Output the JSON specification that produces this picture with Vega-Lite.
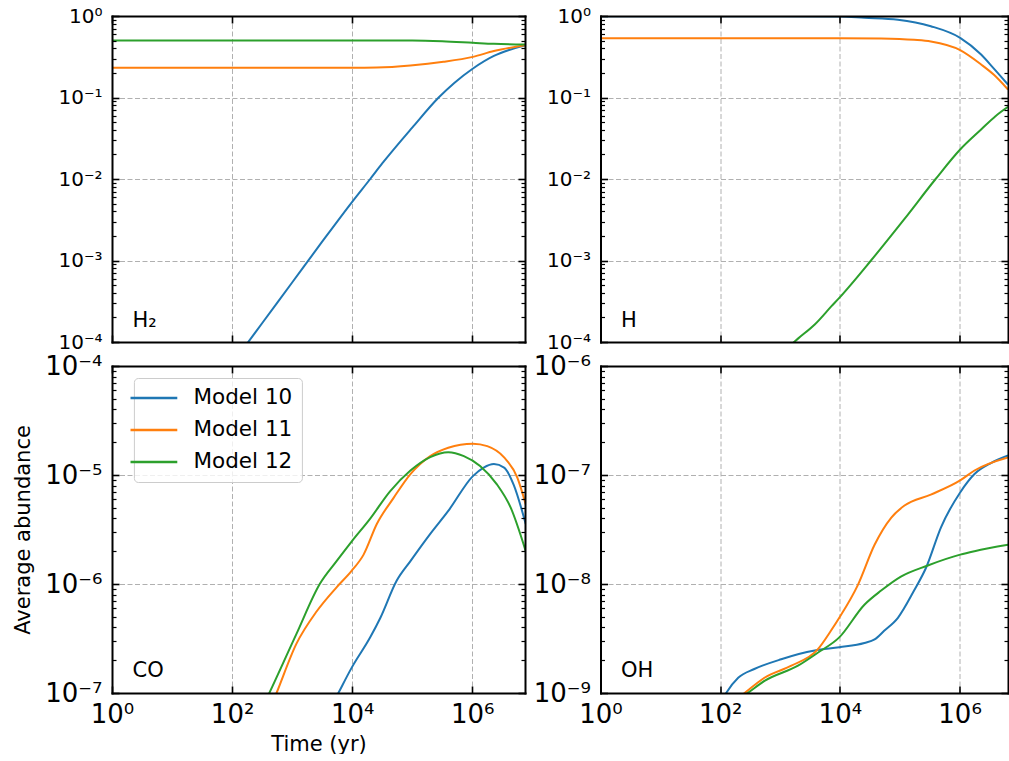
{
"$schema": "https://vega.github.io/schema/vega-lite/v6.json",
"padding": {"left": 12, "top": 6, "right": 0, "bottom": 0},
"bounds": "flush",
"columns": 2,
"spacing": {"row": 24, "column": 75.5},
"datasets": {
"abund": [
{"species":"H2","model":"Model 10","time":100,"abundance":5.37e-5},
{"species":"H2","model":"Model 10","time":316,"abundance":1.70e-4},
{"species":"H2","model":"Model 10","time":1000,"abundance":5.37e-4},
{"species":"H2","model":"Model 10","time":3162,"abundance":1.70e-3},
{"species":"H2","model":"Model 10","time":10000,"abundance":5.25e-3},
{"species":"H2","model":"Model 10","time":19953,"abundance":1.0e-2},
{"species":"H2","model":"Model 10","time":31623,"abundance":1.55e-2},
{"species":"H2","model":"Model 10","time":100000,"abundance":4.27e-2},
{"species":"H2","model":"Model 10","time":275423,"abundance":0.1},
{"species":"H2","model":"Model 10","time":501187,"abundance":0.151},
{"species":"H2","model":"Model 10","time":1000000,"abundance":0.224},
{"species":"H2","model":"Model 10","time":2290868,"abundance":0.324},
{"species":"H2","model":"Model 10","time":3981072,"abundance":0.38},
{"species":"H2","model":"Model 10","time":7762471,"abundance":0.437},
{"species":"H2","model":"Model 11","time":1,"abundance":0.231},
{"species":"H2","model":"Model 11","time":10000,"abundance":0.231},
{"species":"H2","model":"Model 11","time":25704,"abundance":0.233},
{"species":"H2","model":"Model 11","time":93325,"abundance":0.247},
{"species":"H2","model":"Model 11","time":331131,"abundance":0.274},
{"species":"H2","model":"Model 11","time":1023293,"abundance":0.315},
{"species":"H2","model":"Model 11","time":2290868,"abundance":0.371},
{"species":"H2","model":"Model 11","time":7585776,"abundance":0.438},
{"species":"H2","model":"Model 12","time":1,"abundance":0.5},
{"species":"H2","model":"Model 12","time":100000,"abundance":0.5},
{"species":"H2","model":"Model 12","time":316228,"abundance":0.49},
{"species":"H2","model":"Model 12","time":1023293,"abundance":0.469},
{"species":"H2","model":"Model 12","time":2290868,"abundance":0.455},
{"species":"H2","model":"Model 12","time":7585776,"abundance":0.447},
{"species":"H","model":"Model 10","time":1,"abundance":0.995},
{"species":"H","model":"Model 10","time":1000,"abundance":0.993},
{"species":"H","model":"Model 10","time":10000,"abundance":0.985},
{"species":"H","model":"Model 10","time":25704,"abundance":0.95},
{"species":"H","model":"Model 10","time":93325,"abundance":0.9},
{"species":"H","model":"Model 10","time":331131,"abundance":0.75},
{"species":"H","model":"Model 10","time":1023293,"abundance":0.54},
{"species":"H","model":"Model 10","time":2290868,"abundance":0.337},
{"species":"H","model":"Model 10","time":3715352,"abundance":0.228},
{"species":"H","model":"Model 10","time":6456542,"abundance":0.144},
{"species":"H","model":"Model 11","time":1,"abundance":0.535},
{"species":"H","model":"Model 11","time":10000,"abundance":0.535},
{"species":"H","model":"Model 11","time":48978,"abundance":0.53},
{"species":"H","model":"Model 11","time":173780,"abundance":0.51},
{"species":"H","model":"Model 11","time":331131,"abundance":0.486},
{"species":"H","model":"Model 11","time":1023293,"abundance":0.381},
{"species":"H","model":"Model 11","time":2290868,"abundance":0.254},
{"species":"H","model":"Model 11","time":3715352,"abundance":0.191},
{"species":"H","model":"Model 11","time":6456542,"abundance":0.125},
{"species":"H","model":"Model 12","time":1000,"abundance":7.0e-5},
{"species":"H","model":"Model 12","time":1995,"abundance":1.10e-4},
{"species":"H","model":"Model 12","time":3802,"abundance":1.64e-4},
{"species":"H","model":"Model 12","time":7244,"abundance":2.75e-4},
{"species":"H","model":"Model 12","time":9772,"abundance":3.48e-4},
{"species":"H","model":"Model 12","time":33113,"abundance":1.0e-3},
{"species":"H","model":"Model 12","time":120226,"abundance":3.24e-3},
{"species":"H","model":"Model 12","time":398107,"abundance":1.0e-2},
{"species":"H","model":"Model 12","time":1023293,"abundance":0.023},
{"species":"H","model":"Model 12","time":2290868,"abundance":0.0405},
{"species":"H","model":"Model 12","time":3981072,"abundance":0.059},
{"species":"H","model":"Model 12","time":6456542,"abundance":0.0768},
{"species":"CO","model":"Model 10","time":3981,"abundance":6.61e-8},
{"species":"CO","model":"Model 10","time":5888,"abundance":1.0e-7},
{"species":"CO","model":"Model 10","time":9772,"abundance":1.70e-7},
{"species":"CO","model":"Model 10","time":19953,"abundance":3.24e-7},
{"species":"CO","model":"Model 10","time":29512,"abundance":4.90e-7},
{"species":"CO","model":"Model 10","time":54954,"abundance":1.07e-6},
{"species":"CO","model":"Model 10","time":93325,"abundance":1.62e-6},
{"species":"CO","model":"Model 10","time":199526,"abundance":2.88e-6},
{"species":"CO","model":"Model 10","time":398107,"abundance":4.68e-6},
{"species":"CO","model":"Model 10","time":1023293,"abundance":9.77e-6},
{"species":"CO","model":"Model 10","time":1548817,"abundance":1.17e-5},
{"species":"CO","model":"Model 10","time":2290868,"abundance":1.26e-5},
{"species":"CO","model":"Model 10","time":3388442,"abundance":1.17e-5},
{"species":"CO","model":"Model 10","time":4897788,"abundance":8.13e-6},
{"species":"CO","model":"Model 10","time":7762471,"abundance":3.55e-6},
{"species":"CO","model":"Model 11","time":398,"abundance":6.46e-8},
{"species":"CO","model":"Model 11","time":550,"abundance":1.0e-7},
{"species":"CO","model":"Model 11","time":1175,"abundance":2.82e-7},
{"species":"CO","model":"Model 11","time":2570,"abundance":5.62e-7},
{"species":"CO","model":"Model 11","time":5495,"abundance":9.33e-7},
{"species":"CO","model":"Model 11","time":9772,"abundance":1.32e-6},
{"species":"CO","model":"Model 11","time":15488,"abundance":1.86e-6},
{"species":"CO","model":"Model 11","time":25704,"abundance":3.55e-6},
{"species":"CO","model":"Model 11","time":48978,"abundance":6.17e-6},
{"species":"CO","model":"Model 11","time":93325,"abundance":1.02e-5},
{"species":"CO","model":"Model 11","time":199526,"abundance":1.49e-5},
{"species":"CO","model":"Model 11","time":398107,"abundance":1.78e-5},
{"species":"CO","model":"Model 11","time":1023293,"abundance":1.94e-5},
{"species":"CO","model":"Model 11","time":1778279,"abundance":1.84e-5},
{"species":"CO","model":"Model 11","time":3388442,"abundance":1.45e-5},
{"species":"CO","model":"Model 11","time":5623413,"abundance":9.44e-6},
{"species":"CO","model":"Model 11","time":7762471,"abundance":5.37e-6},
{"species":"CO","model":"Model 12","time":316,"abundance":7.24e-8},
{"species":"CO","model":"Model 12","time":417,"abundance":1.0e-7},
{"species":"CO","model":"Model 12","time":1175,"abundance":3.47e-7},
{"species":"CO","model":"Model 12","time":2884,"abundance":1.0e-6},
{"species":"CO","model":"Model 12","time":5495,"abundance":1.62e-6},
{"species":"CO","model":"Model 12","time":9772,"abundance":2.45e-6},
{"species":"CO","model":"Model 12","time":19953,"abundance":3.98e-6},
{"species":"CO","model":"Model 12","time":42658,"abundance":7.08e-6},
{"species":"CO","model":"Model 12","time":93325,"abundance":1.10e-5},
{"species":"CO","model":"Model 12","time":199526,"abundance":1.46e-5},
{"species":"CO","model":"Model 12","time":398107,"abundance":1.62e-5},
{"species":"CO","model":"Model 12","time":724436,"abundance":1.49e-5},
{"species":"CO","model":"Model 12","time":1348963,"abundance":1.21e-5},
{"species":"CO","model":"Model 12","time":2570396,"abundance":8.20e-6},
{"species":"CO","model":"Model 12","time":4365158,"abundance":5.01e-6},
{"species":"CO","model":"Model 12","time":7762471,"abundance":2.0e-6},
{"species":"OH","model":"Model 10","time":100,"abundance":7.94e-10},
{"species":"OH","model":"Model 10","time":126,"abundance":1.0e-9},
{"species":"OH","model":"Model 10","time":200,"abundance":1.38e-9},
{"species":"OH","model":"Model 10","time":372,"abundance":1.66e-9},
{"species":"OH","model":"Model 10","time":1047,"abundance":2.04e-9},
{"species":"OH","model":"Model 10","time":3802,"abundance":2.45e-9},
{"species":"OH","model":"Model 10","time":9772,"abundance":2.63e-9},
{"species":"OH","model":"Model 10","time":25704,"abundance":2.88e-9},
{"species":"OH","model":"Model 10","time":38019,"abundance":3.10e-9},
{"species":"OH","model":"Model 10","time":54954,"abundance":3.72e-9},
{"species":"OH","model":"Model 10","time":93325,"abundance":4.90e-9},
{"species":"OH","model":"Model 10","time":173780,"abundance":8.71e-9},
{"species":"OH","model":"Model 10","time":275423,"abundance":1.41e-8},
{"species":"OH","model":"Model 10","time":489779,"abundance":3.31e-8},
{"species":"OH","model":"Model 10","time":1023293,"abundance":6.92e-8},
{"species":"OH","model":"Model 10","time":1778279,"abundance":1.02e-7},
{"species":"OH","model":"Model 10","time":3388442,"abundance":1.29e-7},
{"species":"OH","model":"Model 10","time":6456542,"abundance":1.51e-7},
{"species":"OH","model":"Model 11","time":200,"abundance":8.91e-10},
{"species":"OH","model":"Model 11","time":257,"abundance":1.0e-9},
{"species":"OH","model":"Model 11","time":550,"abundance":1.38e-9},
{"species":"OH","model":"Model 11","time":1549,"abundance":1.78e-9},
{"species":"OH","model":"Model 11","time":4266,"abundance":2.51e-9},
{"species":"OH","model":"Model 11","time":7079,"abundance":3.72e-9},
{"species":"OH","model":"Model 11","time":9772,"abundance":4.90e-9},
{"species":"OH","model":"Model 11","time":19953,"abundance":9.77e-9},
{"species":"OH","model":"Model 11","time":38019,"abundance":2.29e-8},
{"species":"OH","model":"Model 11","time":72444,"abundance":4.07e-8},
{"species":"OH","model":"Model 11","time":120226,"abundance":5.25e-8},
{"species":"OH","model":"Model 11","time":331131,"abundance":6.61e-8},
{"species":"OH","model":"Model 11","time":1023293,"abundance":8.91e-8},
{"species":"OH","model":"Model 11","time":1778279,"abundance":1.10e-7},
{"species":"OH","model":"Model 11","time":6456542,"abundance":1.45e-7},
{"species":"OH","model":"Model 12","time":200,"abundance":8.71e-10},
{"species":"OH","model":"Model 12","time":288,"abundance":1.0e-9},
{"species":"OH","model":"Model 12","time":550,"abundance":1.29e-9},
{"species":"OH","model":"Model 12","time":1995,"abundance":1.78e-9},
{"species":"OH","model":"Model 12","time":4266,"abundance":2.34e-9},
{"species":"OH","model":"Model 12","time":9772,"abundance":3.24e-9},
{"species":"OH","model":"Model 12","time":25704,"abundance":6.46e-9},
{"species":"OH","model":"Model 12","time":48978,"abundance":8.71e-9},
{"species":"OH","model":"Model 12","time":104713,"abundance":1.17e-8},
{"species":"OH","model":"Model 12","time":295121,"abundance":1.48e-8},
{"species":"OH","model":"Model 12","time":1023293,"abundance":1.86e-8},
{"species":"OH","model":"Model 12","time":1778279,"abundance":2.0e-8},
{"species":"OH","model":"Model 12","time":6456542,"abundance":2.29e-8}
]
},
"concat": [
{
"width": 413, "height": 326,
"layer": [
{"data":{"name":"abund"},"transform":[{"filter":"datum.species === 'H2'"}],
"mark":{"type":"line","strokeWidth":2,"clip":true,"interpolate":"monotone"},
"encoding":{
"x":{"field":"time","type":"quantitative","scale":{"type":"log","domain":[1,7550000],"nice":false},
"axis":{"orient":"bottom","values":[1,100,10000,1000000],"labels":false,"grid":true,"domain":false,"tickSize":-7,"title":null,"zindex":0}},
"y":{"field":"abundance","type":"quantitative","scale":{"type":"log","domain":[0.0001,1],"nice":false},
"axis":{"orient":"left","values":[0.0001,0.001,0.01,0.1,1],"labelExpr":"'10' + ['⁻⁹','⁻⁸','⁻⁷','⁻⁶','⁻⁵','⁻⁴','⁻³','⁻²','⁻¹','⁰','¹','²','³','⁴','⁵','⁶'][round(log(datum.value)/LN10)+9]","labelFontSize":20,"labelPadding":17,"grid":true,"domain":false,"tickSize":-7,"title":null,"zindex":0}},
"color":{"field":"model","type":"nominal","scale":{"domain":["Model 10","Model 11","Model 12"],"range":["#1f77b4","#ff7f0e","#2ca02c"]},"legend":null}
}},
{"data":{"name":"abund"},"transform":[{"filter":"datum.species === 'H2'"}],
"mark":{"type":"point","opacity":0,"clip":true},
"encoding":{
"x":{"field":"time","type":"quantitative","scale":{"type":"log","domain":[1,7550000],"nice":false},
"axis":{"orient":"top","values":[1,100,10000,1000000],"labels":false,"grid":false,"domain":true,"tickSize":-7,"title":null,"zindex":1}},
"y":{"field":"abundance","type":"quantitative","scale":{"type":"log","domain":[0.0001,1],"nice":false},
"axis":{"orient":"left","values":[0.0002,0.0003,0.0004,0.0005,0.0006,0.0007,0.0008,0.0009,0.002,0.003,0.004,0.005,0.006,0.007,0.008,0.009,0.02,0.03,0.04,0.05,0.06,0.07,0.08,0.09,0.2,0.3,0.4,0.5,0.6,0.7,0.8,0.9],"labels":false,"grid":false,"domain":true,"tickSize":-4,"tickWidth":1.2,"title":null,"zindex":1}}
}},
{"data":{"name":"abund"},"transform":[{"filter":"datum.species === 'H2'"}],
"mark":{"type":"point","opacity":0,"clip":true},
"encoding":{
"x":{"field":"time","type":"quantitative","scale":{"type":"log","domain":[1,7550000],"nice":false},
"axis":{"orient":"bottom","ticks":false,"labels":false,"grid":false,"domain":true,"title":null,"zindex":1}},
"y":{"field":"abundance","type":"quantitative","scale":{"type":"log","domain":[0.0001,1],"nice":false},
"axis":{"orient":"right","values":[0.0001,0.001,0.01,0.1,1],"labels":false,"grid":false,"domain":true,"tickSize":-7,"title":null,"zindex":1}}
}},
{"data":{"name":"abund"},"transform":[{"filter":"datum.species === 'H2'"}],
"mark":{"type":"point","opacity":0,"clip":true},
"encoding":{
"x":{"field":"time","type":"quantitative","scale":{"type":"log","domain":[1,7550000],"nice":false},"axis":null},
"y":{"field":"abundance","type":"quantitative","scale":{"type":"log","domain":[0.0001,1],"nice":false},
"axis":{"orient":"right","values":[0.0002,0.0003,0.0004,0.0005,0.0006,0.0007,0.0008,0.0009,0.002,0.003,0.004,0.005,0.006,0.007,0.008,0.009,0.02,0.03,0.04,0.05,0.06,0.07,0.08,0.09,0.2,0.3,0.4,0.5,0.6,0.7,0.8,0.9],"labels":false,"grid":false,"domain":false,"tickSize":-4,"tickWidth":1.2,"title":null,"zindex":1}}
}},
{"data":{"values":[{"label":"H₂"}]},
"mark":{"type":"text","align":"left","baseline":"alphabetic","fontSize":21,"font":"DejaVu Sans","color":"black"},
"encoding":{
"x":{"datum":2.2,"type":"quantitative","scale":{"type":"log","domain":[1,7550000],"nice":false},"axis":null},
"y":{"datum":0.000154,"type":"quantitative","scale":{"type":"log","domain":[0.0001,1],"nice":false},"axis":null},
"text":{"field":"label"}
}}
],
"resolve":{"axis":{"x":"independent","y":"independent"}}
},
{
"width": 407.5, "height": 326,
"layer": [
{"data":{"name":"abund"},"transform":[{"filter":"datum.species === 'H'"}],
"mark":{"type":"line","strokeWidth":2,"clip":true,"interpolate":"monotone"},
"encoding":{
"x":{"field":"time","type":"quantitative","scale":{"type":"log","domain":[1,6450000],"nice":false},
"axis":{"orient":"bottom","values":[1,100,10000,1000000],"labels":false,"grid":true,"domain":false,"tickSize":-7,"title":null,"zindex":0}},
"y":{"field":"abundance","type":"quantitative","scale":{"type":"log","domain":[0.0001,1],"nice":false},
"axis":{"orient":"left","values":[0.0001,0.001,0.01,0.1,1],"labelExpr":"'10' + ['⁻⁹','⁻⁸','⁻⁷','⁻⁶','⁻⁵','⁻⁴','⁻³','⁻²','⁻¹','⁰','¹','²','³','⁴','⁵','⁶'][round(log(datum.value)/LN10)+9]","labelFontSize":20,"labelPadding":17,"grid":true,"domain":false,"tickSize":-7,"title":null,"zindex":0}},
"color":{"field":"model","type":"nominal","scale":{"domain":["Model 10","Model 11","Model 12"],"range":["#1f77b4","#ff7f0e","#2ca02c"]},"legend":null}
}},
{"data":{"name":"abund"},"transform":[{"filter":"datum.species === 'H'"}],
"mark":{"type":"point","opacity":0,"clip":true},
"encoding":{
"x":{"field":"time","type":"quantitative","scale":{"type":"log","domain":[1,6450000],"nice":false},
"axis":{"orient":"top","values":[1,100,10000,1000000],"labels":false,"grid":false,"domain":true,"tickSize":-7,"title":null,"zindex":1}},
"y":{"field":"abundance","type":"quantitative","scale":{"type":"log","domain":[0.0001,1],"nice":false},
"axis":{"orient":"left","values":[0.0002,0.0003,0.0004,0.0005,0.0006,0.0007,0.0008,0.0009,0.002,0.003,0.004,0.005,0.006,0.007,0.008,0.009,0.02,0.03,0.04,0.05,0.06,0.07,0.08,0.09,0.2,0.3,0.4,0.5,0.6,0.7,0.8,0.9],"labels":false,"grid":false,"domain":true,"tickSize":-4,"tickWidth":1.2,"title":null,"zindex":1}}
}},
{"data":{"name":"abund"},"transform":[{"filter":"datum.species === 'H'"}],
"mark":{"type":"point","opacity":0,"clip":true},
"encoding":{
"x":{"field":"time","type":"quantitative","scale":{"type":"log","domain":[1,6450000],"nice":false},
"axis":{"orient":"bottom","ticks":false,"labels":false,"grid":false,"domain":true,"title":null,"zindex":1}},
"y":{"field":"abundance","type":"quantitative","scale":{"type":"log","domain":[0.0001,1],"nice":false},
"axis":{"orient":"right","values":[0.0001,0.001,0.01,0.1,1],"labels":false,"grid":false,"domain":true,"tickSize":-7,"title":null,"zindex":1}}
}},
{"data":{"name":"abund"},"transform":[{"filter":"datum.species === 'H'"}],
"mark":{"type":"point","opacity":0,"clip":true},
"encoding":{
"x":{"field":"time","type":"quantitative","scale":{"type":"log","domain":[1,6450000],"nice":false},"axis":null},
"y":{"field":"abundance","type":"quantitative","scale":{"type":"log","domain":[0.0001,1],"nice":false},
"axis":{"orient":"right","values":[0.0002,0.0003,0.0004,0.0005,0.0006,0.0007,0.0008,0.0009,0.002,0.003,0.004,0.005,0.006,0.007,0.008,0.009,0.02,0.03,0.04,0.05,0.06,0.07,0.08,0.09,0.2,0.3,0.4,0.5,0.6,0.7,0.8,0.9],"labels":false,"grid":false,"domain":false,"tickSize":-4,"tickWidth":1.2,"title":null,"zindex":1}}
}},
{"data":{"values":[{"label":"H"}]},
"mark":{"type":"text","align":"left","baseline":"alphabetic","fontSize":21,"font":"DejaVu Sans","color":"black"},
"encoding":{
"x":{"datum":2.2,"type":"quantitative","scale":{"type":"log","domain":[1,6450000],"nice":false},"axis":null},
"y":{"datum":0.000154,"type":"quantitative","scale":{"type":"log","domain":[0.0001,1],"nice":false},"axis":null},
"text":{"field":"label"}
}}
],
"resolve":{"axis":{"x":"independent","y":"independent"}}
},
{
"width": 413, "height": 327,
"layer": [
{"data":{"name":"abund"},"transform":[{"filter":"datum.species === 'CO'"}],
"mark":{"type":"line","strokeWidth":2,"clip":true,"interpolate":"monotone"},
"encoding":{
"x":{"field":"time","type":"quantitative","scale":{"type":"log","domain":[1,7550000],"nice":false},
"axis":{"orient":"bottom","values":[1,100,10000,1000000],"labelExpr":"'10' + ['⁻⁹','⁻⁸','⁻⁷','⁻⁶','⁻⁵','⁻⁴','⁻³','⁻²','⁻¹','⁰','¹','²','³','⁴','⁵','⁶'][round(log(datum.value)/LN10)+9]","labelFontSize":26,"labelPadding":15,"grid":true,"domain":false,"tickSize":-7,"title":"Time (yr)","titleFontSize":21,"titlePadding":6,"zindex":0}},
"y":{"field":"abundance","type":"quantitative","scale":{"type":"log","domain":[1e-7,1e-4],"nice":false},
"axis":{"orient":"left","values":[1e-7,1e-6,1e-5,1e-4],"labelExpr":"'10' + ['⁻⁹','⁻⁸','⁻⁷','⁻⁶','⁻⁵','⁻⁴','⁻³','⁻²','⁻¹','⁰','¹','²','³','⁴','⁵','⁶'][round(log(datum.value)/LN10)+9]","labelFontSize":26,"labelPadding":17,"grid":true,"domain":false,"tickSize":-7,"title":"Average abundance","titleFontSize":21,"titlePadding":11,"zindex":0}},
"color":{"field":"model","type":"nominal","title":null,"scale":{"domain":["Model 10","Model 11","Model 12"],"range":["#1f77b4","#ff7f0e","#2ca02c"]},
"legend":{"orient":"none","legendX":21.9,"legendY":12,"title":null,"symbolType":"M-2.5,0H2.5","symbolSize":350,"symbolStrokeWidth":2.5,"labelFontSize":21.5,"labelFont":"DejaVu Sans","labelColor":"black","labelOffset":28.6,"rowPadding":10,"padding":9,"fillColor":"rgba(255,255,255,0.8)","strokeColor":"#cccccc","cornerRadius":4}}
}},
{"data":{"name":"abund"},"transform":[{"filter":"datum.species === 'CO'"}],
"mark":{"type":"point","opacity":0,"clip":true},
"encoding":{
"x":{"field":"time","type":"quantitative","scale":{"type":"log","domain":[1,7550000],"nice":false},
"axis":{"orient":"top","values":[1,100,10000,1000000],"labels":false,"grid":false,"domain":true,"tickSize":-7,"title":null,"zindex":1}},
"y":{"field":"abundance","type":"quantitative","scale":{"type":"log","domain":[1e-7,1e-4],"nice":false},
"axis":{"orient":"left","values":[2e-7,3e-7,4e-7,5e-7,6e-7,7e-7,8e-7,9e-7,2e-6,3e-6,4e-6,5e-6,6e-6,7e-6,8e-6,9e-6,2e-5,3e-5,4e-5,5e-5,6e-5,7e-5,8e-5,9e-5],"labels":false,"grid":false,"domain":true,"tickSize":-4,"tickWidth":1.2,"title":null,"zindex":1}}
}},
{"data":{"name":"abund"},"transform":[{"filter":"datum.species === 'CO'"}],
"mark":{"type":"point","opacity":0,"clip":true},
"encoding":{
"x":{"field":"time","type":"quantitative","scale":{"type":"log","domain":[1,7550000],"nice":false},
"axis":{"orient":"bottom","ticks":false,"labels":false,"grid":false,"domain":true,"title":null,"zindex":1}},
"y":{"field":"abundance","type":"quantitative","scale":{"type":"log","domain":[1e-7,1e-4],"nice":false},
"axis":{"orient":"right","values":[1e-7,1e-6,1e-5,1e-4],"labels":false,"grid":false,"domain":true,"tickSize":-7,"title":null,"zindex":1}}
}},
{"data":{"name":"abund"},"transform":[{"filter":"datum.species === 'CO'"}],
"mark":{"type":"point","opacity":0,"clip":true},
"encoding":{
"x":{"field":"time","type":"quantitative","scale":{"type":"log","domain":[1,7550000],"nice":false},"axis":null},
"y":{"field":"abundance","type":"quantitative","scale":{"type":"log","domain":[1e-7,1e-4],"nice":false},
"axis":{"orient":"right","values":[2e-7,3e-7,4e-7,5e-7,6e-7,7e-7,8e-7,9e-7,2e-6,3e-6,4e-6,5e-6,6e-6,7e-6,8e-6,9e-6,2e-5,3e-5,4e-5,5e-5,6e-5,7e-5,8e-5,9e-5],"labels":false,"grid":false,"domain":false,"tickSize":-4,"tickWidth":1.2,"title":null,"zindex":1}}
}},
{"data":{"values":[{"label":"CO"}]},
"mark":{"type":"text","align":"left","baseline":"alphabetic","fontSize":21,"font":"DejaVu Sans","color":"black"},
"encoding":{
"x":{"datum":2.2,"type":"quantitative","scale":{"type":"log","domain":[1,7550000],"nice":false},"axis":null},
"y":{"datum":1.41e-7,"type":"quantitative","scale":{"type":"log","domain":[1e-7,1e-4],"nice":false},"axis":null},
"text":{"field":"label"}
}}
],
"resolve":{"axis":{"x":"independent","y":"independent"}}
},
{
"width": 407.5, "height": 327,
"layer": [
{"data":{"name":"abund"},"transform":[{"filter":"datum.species === 'OH'"}],
"mark":{"type":"line","strokeWidth":2,"clip":true,"interpolate":"monotone"},
"encoding":{
"x":{"field":"time","type":"quantitative","scale":{"type":"log","domain":[1,6450000],"nice":false},
"axis":{"orient":"bottom","values":[1,100,10000,1000000],"labelExpr":"'10' + ['⁻⁹','⁻⁸','⁻⁷','⁻⁶','⁻⁵','⁻⁴','⁻³','⁻²','⁻¹','⁰','¹','²','³','⁴','⁵','⁶'][round(log(datum.value)/LN10)+9]","labelFontSize":26,"labelPadding":15,"grid":true,"domain":false,"tickSize":-7,"title":null,"zindex":0}},
"y":{"field":"abundance","type":"quantitative","scale":{"type":"log","domain":[1e-9,1e-6],"nice":false},
"axis":{"orient":"left","values":[1e-9,1e-8,1e-7,1e-6],"labelExpr":"'10' + ['⁻⁹','⁻⁸','⁻⁷','⁻⁶','⁻⁵','⁻⁴','⁻³','⁻²','⁻¹','⁰','¹','²','³','⁴','⁵','⁶'][round(log(datum.value)/LN10)+9]","labelFontSize":26,"labelPadding":17,"grid":true,"domain":false,"tickSize":-7,"title":null,"zindex":0}},
"color":{"field":"model","type":"nominal","scale":{"domain":["Model 10","Model 11","Model 12"],"range":["#1f77b4","#ff7f0e","#2ca02c"]},"legend":null}
}},
{"data":{"name":"abund"},"transform":[{"filter":"datum.species === 'OH'"}],
"mark":{"type":"point","opacity":0,"clip":true},
"encoding":{
"x":{"field":"time","type":"quantitative","scale":{"type":"log","domain":[1,6450000],"nice":false},
"axis":{"orient":"top","values":[1,100,10000,1000000],"labels":false,"grid":false,"domain":true,"tickSize":-7,"title":null,"zindex":1}},
"y":{"field":"abundance","type":"quantitative","scale":{"type":"log","domain":[1e-9,1e-6],"nice":false},
"axis":{"orient":"left","values":[2e-9,3e-9,4e-9,5e-9,6e-9,7e-9,8e-9,9e-9,2e-8,3e-8,4e-8,5e-8,6e-8,7e-8,8e-8,9e-8,2e-7,3e-7,4e-7,5e-7,6e-7,7e-7,8e-7,9e-7],"labels":false,"grid":false,"domain":true,"tickSize":-4,"tickWidth":1.2,"title":null,"zindex":1}}
}},
{"data":{"name":"abund"},"transform":[{"filter":"datum.species === 'OH'"}],
"mark":{"type":"point","opacity":0,"clip":true},
"encoding":{
"x":{"field":"time","type":"quantitative","scale":{"type":"log","domain":[1,6450000],"nice":false},
"axis":{"orient":"bottom","ticks":false,"labels":false,"grid":false,"domain":true,"title":null,"zindex":1}},
"y":{"field":"abundance","type":"quantitative","scale":{"type":"log","domain":[1e-9,1e-6],"nice":false},
"axis":{"orient":"right","values":[1e-9,1e-8,1e-7,1e-6],"labels":false,"grid":false,"domain":true,"tickSize":-7,"title":null,"zindex":1}}
}},
{"data":{"name":"abund"},"transform":[{"filter":"datum.species === 'OH'"}],
"mark":{"type":"point","opacity":0,"clip":true},
"encoding":{
"x":{"field":"time","type":"quantitative","scale":{"type":"log","domain":[1,6450000],"nice":false},"axis":null},
"y":{"field":"abundance","type":"quantitative","scale":{"type":"log","domain":[1e-9,1e-6],"nice":false},
"axis":{"orient":"right","values":[2e-9,3e-9,4e-9,5e-9,6e-9,7e-9,8e-9,9e-9,2e-8,3e-8,4e-8,5e-8,6e-8,7e-8,8e-8,9e-8,2e-7,3e-7,4e-7,5e-7,6e-7,7e-7,8e-7,9e-7],"labels":false,"grid":false,"domain":false,"tickSize":-4,"tickWidth":1.2,"title":null,"zindex":1}}
}},
{"data":{"values":[{"label":"OH"}]},
"mark":{"type":"text","align":"left","baseline":"alphabetic","fontSize":21,"font":"DejaVu Sans","color":"black"},
"encoding":{
"x":{"datum":2.2,"type":"quantitative","scale":{"type":"log","domain":[1,6450000],"nice":false},"axis":null},
"y":{"datum":1.41e-9,"type":"quantitative","scale":{"type":"log","domain":[1e-9,1e-6],"nice":false},"axis":null},
"text":{"field":"label"}
}}
],
"resolve":{"axis":{"x":"independent","y":"independent"}}
}
],
"resolve": {"scale": {"x":"independent","y":"independent","color":"independent"}, "axis": {"x":"independent","y":"independent"}, "legend": {"color":"independent"}},
"config": {
"font": "DejaVu Sans",
"view": {"stroke": null},
"axis": {"labelFont":"DejaVu Sans","titleFont":"DejaVu Sans","labelColor":"black","titleColor":"black","tickColor":"black","domainColor":"black","domainWidth":2,"domainCap":"square","tickWidth":1.6,"labelOverlap":false,"labelFlush":false,"labelBound":false,"gridColor":"#b0b0b0","gridDash":[5,2.5],"gridWidth":1,"titleFontWeight":"normal"},
"legend": {"labelFont":"DejaVu Sans"}
}
}
